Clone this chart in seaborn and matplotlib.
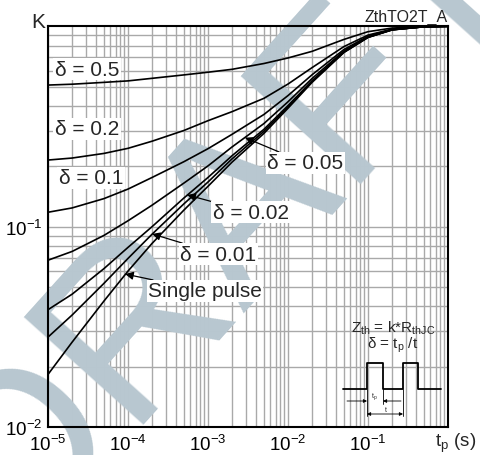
import numpy as np
import pandas as pd
import matplotlib
matplotlib.use("Agg")
import matplotlib.pyplot as plt
import matplotlib.ticker as mticker
import seaborn as sns

# pulse duration t_p (s)
tp = [1e-5, 2e-5, 5e-5, 1e-4, 2e-4, 5e-4, 1e-3, 2e-3, 5e-3,
      1e-2, 2e-2, 5e-2, 1e-1, 2e-1, 5e-1, 1.0]

# K = Zth / RthJC
k_d050 = [0.509, 0.514, 0.525, 0.534, 0.550, 0.572, 0.590, 0.610, 0.652,
          0.695, 0.750, 0.860, 0.940, 0.980, 0.997, 1.0]
k_d020 = [0.215, 0.220, 0.232, 0.246, 0.267, 0.302, 0.338, 0.375, 0.437,
          0.515, 0.622, 0.792, 0.904, 0.968, 0.996, 1.0]
k_d010 = [0.118, 0.124, 0.138, 0.154, 0.176, 0.211, 0.245, 0.289, 0.363,
          0.451, 0.573, 0.766, 0.892, 0.964, 0.995, 1.0]
k_d005 = [0.068, 0.0752, 0.0904, 0.107, 0.128, 0.165, 0.201, 0.250, 0.327,
          0.420, 0.549, 0.753, 0.886, 0.962, 0.995, 1.0]
k_d002 = [0.0385, 0.046, 0.0617, 0.0788, 0.100, 0.139, 0.176, 0.226, 0.306,
          0.402, 0.535, 0.745, 0.882, 0.961, 0.995, 1.0]
k_d001 = [0.0281, 0.0362, 0.0521, 0.0694, 0.0917, 0.130, 0.167, 0.218, 0.299,
          0.396, 0.530, 0.743, 0.881, 0.960, 0.995, 1.0]
k_single = [0.0183, 0.0265, 0.0425, 0.060, 0.0825, 0.121, 0.159, 0.210, 0.292,
            0.390, 0.525, 0.740, 0.880, 0.960, 0.995, 1.0]

curves = {"0.5": k_d050, "0.2": k_d020, "0.1": k_d010, "0.05": k_d005,
          "0.02": k_d002, "0.01": k_d001, "single": k_single}

# labels: (text, text pos x, text pos y[, arrow target x, arrow target y])
labels_plain = [("δ = 0.5", 1.22e-5, 0.612),
                ("δ = 0.2", 1.22e-5, 0.308),
                ("δ = 0.1", 1.37e-5, 0.175)]
labels_arrow = [("δ = 0.05", 5.5e-3, 0.208, 2.9e-3, 0.278),
                ("δ = 0.02", 1.15e-3, 0.118, 5.5e-4, 0.144),
                ("δ = 0.01", 4.5e-4, 0.073, 2.0e-4, 0.092),
                ("Single pulse", 1.78e-4, 0.0478, 9.2e-5, 0.058)]

xticks = [1e-5, 1e-4, 1e-3, 1e-2, 1e-1]
yticks = [1e-2, 1e-1]

# pulse sketch in the lower right box (box pixel units)
pulse_x = [343, 367, 367, 383, 383, 403, 403, 418, 418, 441]
pulse_y = [390, 390, 364, 364, 390, 390, 364, 364, 390, 390]

rows = []
for name, vals in curves.items():
    for x, y in zip(tp, vals):
        rows.append({"tp": x, "k": y, "curve": name})
df = pd.DataFrame(rows)

sns.set_style("white")
plt.rcParams["font.family"] = ["Liberation Sans", "DejaVu Sans"]
plt.rcParams["mathtext.fontset"] = "custom"
plt.rcParams["mathtext.rm"] = "Liberation Sans"
plt.rcParams["mathtext.it"] = "Liberation Sans"
plt.rcParams["mathtext.default"] = "regular"

fig = plt.figure(figsize=(4.81, 4.56), dpi=100)
ax = fig.add_axes([48 / 481, 1 - 428 / 456, 400 / 481, 400.7 / 456])

sns.lineplot(data=df, x="tp", y="k", units="curve", estimator=None,
             color="black", lw=1.2, ax=ax, zorder=3)
ax.set_xscale("log")
ax.set_yscale("log")
ax.set_xlim(1e-5, 1)
ax.set_ylim(1e-2, 1)

ax.set_xticks(xticks)
ax.set_yticks(yticks)
ax.xaxis.set_minor_locator(mticker.LogLocator(base=10, subs=range(2, 10), numticks=20))
ax.yaxis.set_minor_locator(mticker.LogLocator(base=10, subs=range(2, 10), numticks=20))
ax.xaxis.set_minor_formatter(mticker.NullFormatter())
ax.yaxis.set_minor_formatter(mticker.NullFormatter())
ax.tick_params(which="both", length=0, labelsize=13.5, colors="black")
ax.tick_params(axis="x", pad=5)
ax.tick_params(axis="y", pad=4)
ax.grid(which="both", color="#a9a9a9", lw=1.0)
ax.set_axisbelow(True)
for s in ax.spines.values():
    s.set_color("black")
    s.set_linewidth(1.5)
ax.set_xlabel("")
ax.set_ylabel("")

# watermark
ax.text(0.45, 0.52, "DRAFT", transform=ax.transAxes, rotation=48,
        fontsize=168, color="#b8c7d0", ha="center", va="center",
        zorder=1, clip_on=False)

for txt, x, y in labels_plain:
    ax.text(x, y, txt, fontsize=15, ha="left", va="center", zorder=5,
            bbox=dict(facecolor="white", edgecolor="none", pad=1))
for txt, x, y, ax_, ay in labels_arrow:
    ax.annotate(txt, xy=(ax_, ay), xytext=(x, y), fontsize=15,
                ha="left", va="center", zorder=5,
                bbox=dict(facecolor="white", edgecolor="none", pad=1),
                arrowprops=dict(arrowstyle="-|>", color="black", lw=0.9,
                                mutation_scale=12, shrinkA=0, shrinkB=0))

fig.text(38 / 481, 1 - 22 / 456, "K", fontsize=15, ha="center", va="center")
fig.text(448 / 481, 1 - 17 / 456, "ZthTO2T_A", fontsize=11.5, ha="right",
         va="center", zorder=10)
fig.text(476 / 481, 1 - 443 / 456, "t$_p$ (s)", fontsize=13.5, ha="right", va="center")

# lower right box with formula and pulse sketch
box = fig.add_axes([342 / 481, 1 - 427 / 456, 105 / 481, 112 / 456], zorder=4)
box.set_facecolor("white")
box.set_xlim(342, 447)
box.set_ylim(427, 315)
box.axis("off")
box.patch.set_visible(True)
box.text(393, 328, "Z$_{th}$ = k*R$_{thJC}$", fontsize=11, ha="center", va="center")
box.text(393, 345, "δ = t$_p$ /t", fontsize=11, ha="center", va="center")
box.plot(pulse_x, pulse_y, color="black", lw=1.3)
for xv, y0, y1 in [(367, 390, 417), (383, 390, 405), (403, 390, 417)]:
    box.plot([xv, xv], [y0, y1], color="black", lw=0.6)
ap = dict(arrowstyle="-|>", color="black", lw=0.6, mutation_scale=5, shrinkA=0, shrinkB=0)
box.annotate("", xy=(367, 402), xytext=(347, 402), arrowprops=ap)
box.annotate("", xy=(383, 402), xytext=(401, 402), arrowprops=ap)
box.annotate("", xy=(403, 415), xytext=(367, 415),
             arrowprops=dict(arrowstyle="<|-|>", color="black", lw=0.6,
                             mutation_scale=5, shrinkA=0, shrinkB=0))
box.text(374, 397, "t$_p$", fontsize=5, ha="center", va="center")
box.text(386, 411, "t", fontsize=5, ha="center", va="center")

fig.savefig("out.png", dpi=100)
